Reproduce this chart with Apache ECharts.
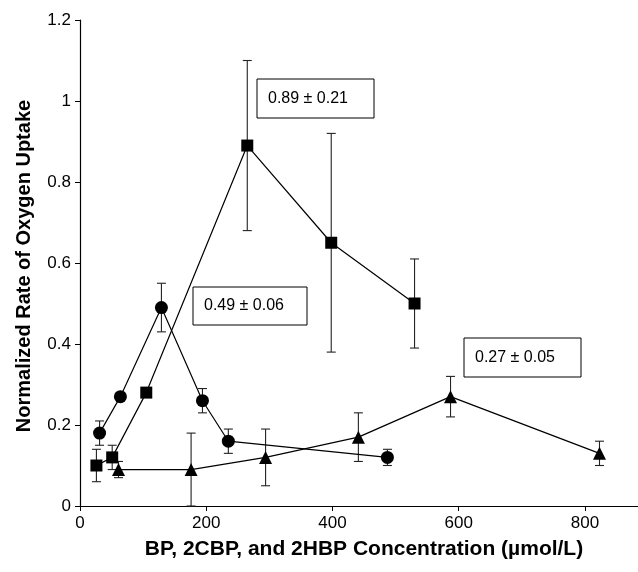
<!DOCTYPE html>
<html>
<head>
<meta charset="UTF-8" />
<title>Oxygen uptake</title>
<style>
  html, body { margin: 0; padding: 0; background: #ffffff; }
  #chart { width: 638px; height: 572px; }
</style>
</head>
<body>
<div id="chart"></div>
<script src="https://cdn.jsdelivr.net/npm/echarts@6/dist/echarts.min.js"></script>
<script>
// squares
const sqX = [26, 51, 105, 265, 398, 530];
const sqY = [0.10, 0.12, 0.28, 0.89, 0.65, 0.50];
const sqErr = [0.04, 0.03, 0, 0.21, 0.27, 0.11];
// circles
const ciX = [31, 64, 129, 194, 235, 487];
const ciY = [0.18, 0.27, 0.49, 0.26, 0.16, 0.12];
const ciErr = [0.03, 0.01, 0.06, 0.03, 0.03, 0.02];
// triangles
const trX = [61, 176, 294, 441, 587, 823];
const trY = [0.09, 0.09, 0.12, 0.17, 0.27, 0.13];
const trErr = [0.02, 0.09, 0.07, 0.06, 0.05, 0.03];

const xTicks = [0, 200, 400, 600, 800];
const yTicks = [0, 0.2, 0.4, 0.6, 0.8, 1, 1.2];
const peakLabels = ['0.89 \u00b1 0.21', '0.49 \u00b1 0.06', '0.27 \u00b1 0.05'];

const font = '"Liberation Sans", Arial, Helvetica, sans-serif';

function pts(xs, ys) {
  return xs.map((x, i) => [x, ys[i]]);
}
function errPts(xs, ys, es) {
  return xs.map((x, i) => [x, ys[i] - es[i], ys[i] + es[i]]).filter((d, i) => es[i] > 0);
}

function errRender(params, api) {
  const lo = api.coord([api.value(0), api.value(1)]);
  const hi = api.coord([api.value(0), api.value(2)]);
  const cap = 4.5;
  const style = { stroke: '#222', lineWidth: 1.1 };
  return {
    type: 'group',
    children: [
      { type: 'line', shape: { x1: lo[0], y1: lo[1], x2: hi[0], y2: hi[1] }, style },
      { type: 'line', shape: { x1: lo[0] - cap, y1: lo[1], x2: lo[0] + cap, y2: lo[1] }, style },
      { type: 'line', shape: { x1: hi[0] - cap, y1: hi[1], x2: hi[0] + cap, y2: hi[1] }, style }
    ]
  };
}

function lineSeries(name, data, symbol, size) {
  return {
    name, type: 'line', data, symbol, symbolSize: size,
    lineStyle: { color: '#000', width: 1.2 },
    itemStyle: { color: '#000' },
    z: 3, animation: false
  };
}
function errSeries(data) {
  return {
    type: 'custom', renderItem: errRender, data,
    encode: { x: 0, y: [1, 2] }, z: 2, animation: false, silent: true
  };
}

function box(x, y, w, h, txt) {
  return {
    type: 'group', x, y,
    children: [
      { type: 'rect', shape: { x: 0, y: 0, width: w, height: h },
        style: { fill: '#fff', stroke: '#000', lineWidth: 1 } },
      { type: 'text', x: 11, y: h / 2,
        style: { text: txt, font: '16px ' + font, fill: '#000', verticalAlign: 'middle' } }
    ]
  };
}

const chart = echarts.init(document.getElementById('chart'));
chart.setOption({
  backgroundColor: '#fff',
  animation: false,
  grid: { left: 80, right: 0, top: 20, bottom: 66 },
  xAxis: {
    type: 'value', min: 0, max: 884, interval: 200,
    axisLine: { lineStyle: { color: '#000', width: 1.2 } },
    axisTick: { show: true, length: 5, lineStyle: { color: '#000' } },
    axisLabel: {
      color: '#000', fontSize: 17, fontFamily: font, margin: 9, showMaxLabel: false,
      formatter: v => xTicks.includes(v) ? String(v) : ''
    },
    splitLine: { show: false }
  },
  yAxis: {
    type: 'value', min: 0, max: 1.2, interval: 0.2,
    axisLine: { show: true, lineStyle: { color: '#000', width: 1.2 } },
    axisTick: { show: true, length: 5, lineStyle: { color: '#000' } },
    axisLabel: {
      color: '#000', fontSize: 17, fontFamily: font, margin: 9,
      formatter: v => {
        const t = yTicks.find(k => Math.abs(k - v) < 1e-6);
        return t === undefined ? '' : String(t);
      }
    },
    splitLine: { show: false }
  },
  graphic: [
    box(257, 79, 117, 39, peakLabels[0]),
    box(193, 287, 114, 38, peakLabels[1]),
    box(464, 338, 117, 39, peakLabels[2]),
    {
      type: 'text', x: 364, y: 549,
      style: {
        text: 'BP, 2CBP, and 2HBP Concentration (\u00b5mol/L)',
        font: 'bold 21px ' + font, fill: '#000', align: 'center', verticalAlign: 'middle'
      }
    },
    {
      type: 'text', x: 24, y: 266, rotation: Math.PI / 2,
      style: {
        text: 'Normalized Rate of Oxygen Uptake',
        font: 'bold 20px ' + font, fill: '#000', align: 'center', verticalAlign: 'middle'
      }
    }
  ],
  series: [
    errSeries(errPts(sqX, sqY, sqErr)),
    errSeries(errPts(ciX, ciY, ciErr)),
    errSeries(errPts(trX, trY, trErr)),
    lineSeries('squares', pts(sqX, sqY), 'rect', 12),
    lineSeries('circles', pts(ciX, ciY), 'circle', 13),
    lineSeries('triangles', pts(trX, trY), 'triangle', 13)
  ]
});
</script>
</body>
</html>
